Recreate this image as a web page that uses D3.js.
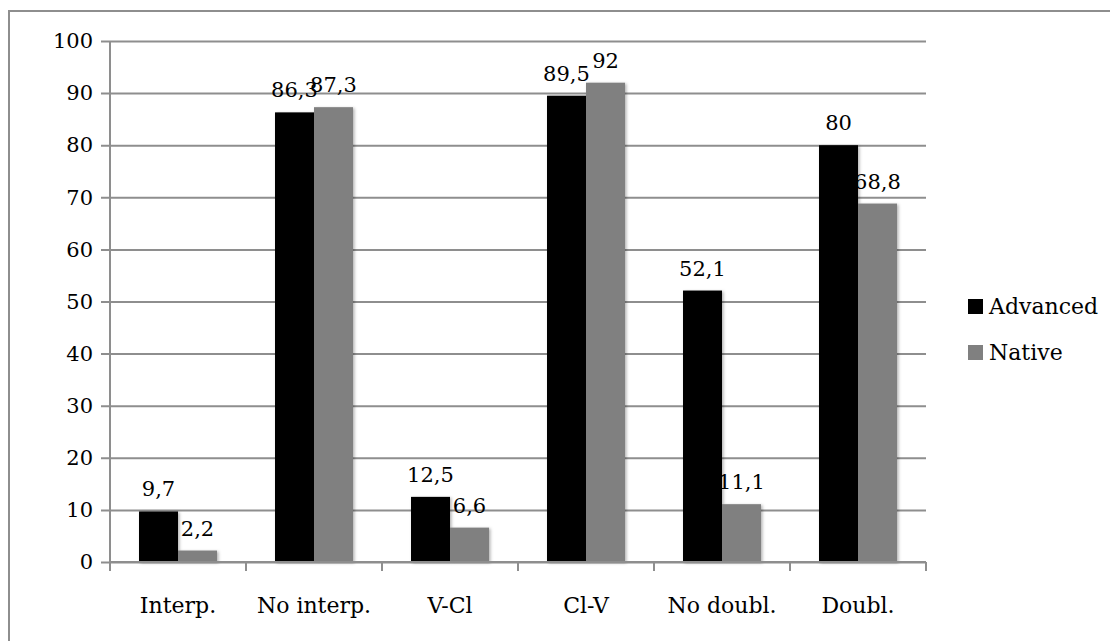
<!DOCTYPE html>
<html>
<head>
<meta charset="utf-8">
<script src="https://cdn.jsdelivr.net/npm/d3@7"></script>
<style>
  html, body { margin: 0; padding: 0; background: #fff; }
  svg { display: block; }
  text { font-family: "DejaVu Serif", serif; fill: #000; }
</style>
</head>
<body>
<svg id="chart" width="1110" height="641"></svg>
<script>
const categories = ["Interp.", "No interp.", "V-Cl", "Cl-V", "No doubl.", "Doubl."];
const seriesNames = ["Advanced", "Native"];
const advanced = [9.7, 86.3, 12.5, 89.5, 52.1, 80];
const native = [2.2, 87.3, 6.6, 92, 11.1, 68.8];
const yTicks = [0, 10, 20, 30, 40, 50, 60, 70, 80, 90, 100];
const colors = ["#000000", "#808080"];

(function () {
const svg = d3.select("#chart");
const numSize = 21;
const wordSize = 22;

// outer frame (left and top edges visible)
svg.append("path")
  .attr("d", "M9,645 L9,11 L1115,11")
  .attr("fill", "none")
  .attr("stroke", "#8e8e8e")
  .attr("stroke-width", 2);

const pl = 110, pr = 926, pt = 41, pb = 562;

const x0 = d3.scaleBand().domain(categories).range([pl, pr]).padding(0);
const x1 = d3.scaleBand().domain(seriesNames).range([0, x0.bandwidth()]).paddingInner(0).paddingOuter(0.744);
const y = d3.scaleLinear().domain([0, 100]).range([pb, pt]);

// shadow filter
const defs = svg.append("defs");
const f = defs.append("filter").attr("id", "shadow").attr("x", "-20%").attr("y", "-20%").attr("width", "150%").attr("height", "150%");
f.append("feDropShadow").attr("dx", 1.5).attr("dy", 1).attr("stdDeviation", 1.5).attr("flood-color", "#000").attr("flood-opacity", 0.3);

// gridlines + y axis
const yAxis = d3.axisLeft(y).tickValues(yTicks).tickSize(-(pr - pl)).tickPadding(17).tickFormat(d3.format("d"));
const gy = svg.append("g").attr("transform", `translate(${pl},0)`).call(yAxis);
gy.select(".domain").remove();
gy.selectAll(".tick line").attr("stroke", "#8e8e8e").attr("stroke-width", 2).attr("x1", -9);
gy.selectAll(".tick text").attr("font-size", numSize).attr("font-family", "DejaVu Serif").attr("fill", "#000");

// y axis line
svg.append("line").attr("x1", pl).attr("x2", pl).attr("y1", pt).attr("y2", pb)
  .attr("stroke", "#8e8e8e").attr("stroke-width", 2);

// bars
const data = categories.map((c, i) => ({ cat: c, vals: [advanced[i], native[i]] }));
const groups = svg.append("g").selectAll("g").data(data).join("g")
  .attr("transform", d => `translate(${x0(d.cat)},0)`);

groups.selectAll("rect").data(d => d.vals.map((v, j) => ({ s: seriesNames[j], v, j })))
  .join("rect")
  .attr("x", d => x1(d.s))
  .attr("y", d => y(d.v))
  .attr("width", x1.bandwidth())
  .attr("height", d => y(0) - y(d.v))
  .attr("fill", d => colors[d.j])
  .attr("filter", "url(#shadow)");

// value labels
const fmt = v => String(v).replace(".", ",");
groups.selectAll("text.val").data(d => d.vals.map((v, j) => ({ s: seriesNames[j], v, j })))
  .join("text")
  .attr("class", "val")
  .attr("x", d => x1(d.s) + x1.bandwidth() / 2)
  .attr("y", d => y(d.v) - 15)
  .attr("text-anchor", "middle")
  .attr("font-size", numSize)
  .text(d => fmt(d.v));

// x axis
svg.append("line").attr("x1", pl).attr("x2", pr).attr("y1", pb).attr("y2", pb)
  .attr("stroke", "#8e8e8e").attr("stroke-width", 2);
const bounds = categories.map(c => x0(c)).concat([pr]);
svg.append("g").selectAll("line").data(bounds).join("line")
  .attr("x1", d => d).attr("x2", d => d)
  .attr("y1", pb).attr("y2", pb + 9)
  .attr("stroke", "#8e8e8e").attr("stroke-width", 2);
svg.append("g").selectAll("text").data(categories).join("text")
  .attr("x", d => x0(d) + x0.bandwidth() / 2)
  .attr("y", 613)
  .attr("text-anchor", "middle")
  .attr("font-size", wordSize)
  .text(d => d);

// legend
const legend = svg.append("g").selectAll("g").data(seriesNames).join("g")
  .attr("transform", (d, i) => `translate(968,${299 + i * 46})`);
legend.append("rect").attr("width", 15).attr("height", 15).attr("fill", (d, i) => colors[i]);
legend.append("text").attr("x", 21).attr("y", 15).attr("font-size", wordSize).text(d => d);
})();
</script>
</body>
</html>
